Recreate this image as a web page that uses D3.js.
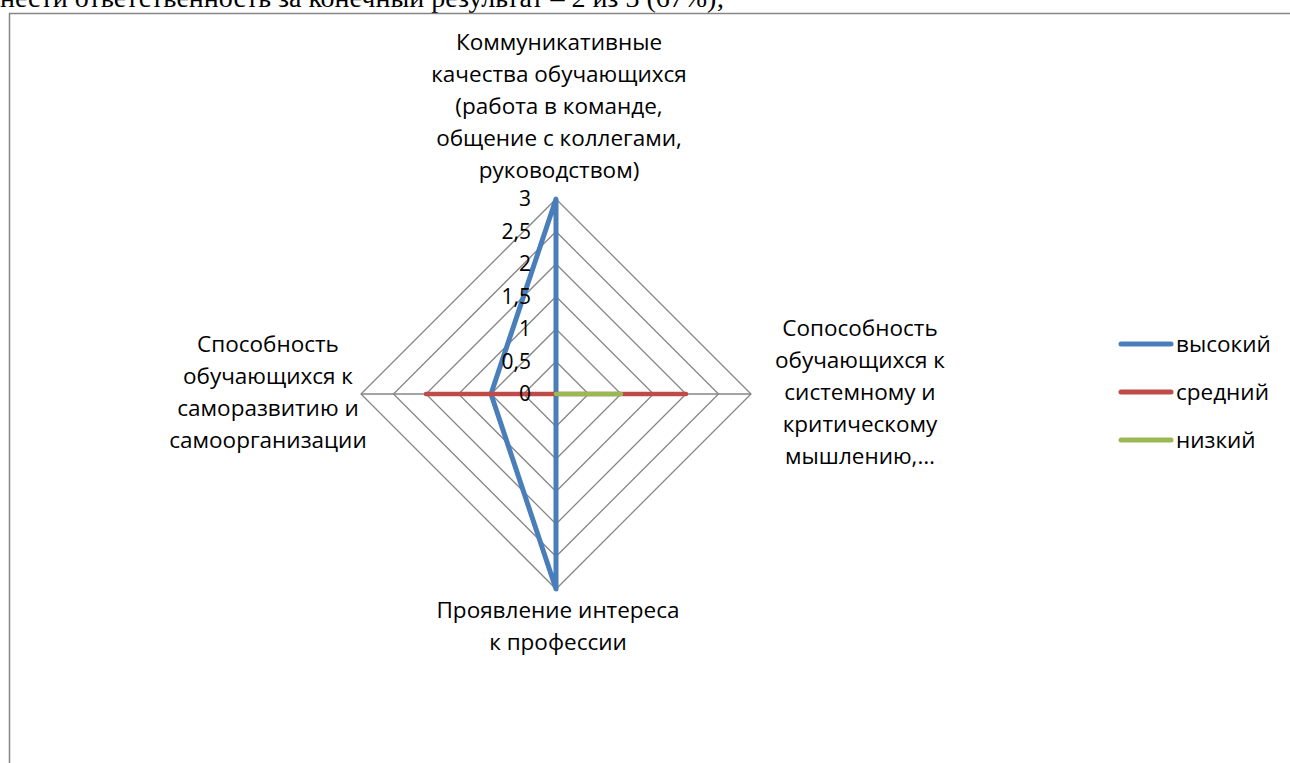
<!DOCTYPE html>
<html>
<head>
<meta charset="utf-8">
<script src="https://cdn.jsdelivr.net/npm/d3@7"></script>
<style>
body { margin: 0; background: #fff; overflow: hidden; }
svg { display: block; }
</style>
</head>
<body>
<svg id="svg"></svg>
<script>
var width = 1290, height = 763;

var categories = [
	["Коммуникативные", "качества обучающихся", "(работа в команде,", "общение с коллегами,", "руководством)"],
	["Сопособность", "обучающихся к", "системному и", "критическому", "мышлению,…"],
	["Проявление интереса", "к профессии"],
	["Способность", "обучающихся к", "саморазвитию и", "самоорганизации"]
];
var seriesNames = ["высокий", "средний", "низкий"];
var highValues = [3, 0, 3, 1];
var midValues = [0, 2, 0, 2];
var lowValues = [0, 1, 0, 0];
var ticks = [0, 0.5, 1, 1.5, 2, 2.5, 3];
var tickLabels = ["0", "0,5", "1", "1,5", "2", "2,5", "3"];
var colors = ["#4a7ebb", "#be4b48", "#98b954"];

var svg = d3.select("#svg")
	.attr("width", width)
	.attr("height", height);

// text cut off from the page above the chart
svg.append("text")
	.attr("x", 0)
	.attr("y", 7)
	.attr("font-family", "Liberation Serif, Times New Roman, serif")
	.attr("font-size", "28px")
	.attr("fill", "#000")
	.text("нести ответственность за конечный результат – 2 из 3 (67%);");

// chart frame
svg.append("rect")
	.attr("x", 9.5)
	.attr("y", 13.5)
	.attr("width", 1290)
	.attr("height", 800)
	.attr("fill", "none")
	.attr("stroke", "#868686")
	.attr("stroke-width", 1.5);

var cx = 556, cy = 394;
var r = d3.scaleLinear().domain([0, 3]).range([0, 195]);
var angle = function(i) { return i * Math.PI / 2; };

var g = svg.append("g").attr("transform", "translate(" + cx + "," + cy + ")");

var radial = d3.lineRadial()
	.angle(function(d, i) { return angle(i); })
	.radius(function(d) { return r(d); })
	.curve(d3.curveLinearClosed);

// grid rings
ticks.slice(1).forEach(function(t) {
	g.append("path")
		.attr("d", radial([t, t, t, t]))
		.attr("fill", "none")
		.attr("stroke", "#868686")
		.attr("stroke-width", 1.3);
});

// spokes
categories.forEach(function(c, i) {
	g.append("line")
		.attr("x1", 0).attr("y1", 0)
		.attr("x2", r(3) * Math.sin(angle(i)))
		.attr("y2", -r(3) * Math.cos(angle(i)))
		.attr("stroke", "#868686")
		.attr("stroke-width", 1.3);
});

// series
var allSeries = [highValues, midValues, lowValues];
var widths = [5, 4.5, 4.5];
allSeries.forEach(function(vals, k) {
	g.append("path")
		.attr("d", radial(vals))
		.attr("fill", "none")
		.attr("stroke", colors[k])
		.attr("stroke-width", widths[k])
		.attr("stroke-linejoin", "round");
});

// tick labels
ticks.forEach(function(t, i) {
	g.append("text")
		.attr("x", -25)
		.attr("y", -r(t))
		.attr("dy", "0.35em")
		.attr("text-anchor", "end")
		.attr("font-family", "Open Sans, sans-serif")
		.attr("font-size", "21px")
		.attr("fill", "#000")
		.text(tickLabels[i]);
});

// category labels
var lineH = 32;
var labelPos = [
	{x: 3, y: -352},
	{x: 304, y: -66},
	{x: 2, y: 216},
	{x: -288, y: -50}
];
categories.forEach(function(lines, i) {
	var t = g.append("text")
		.attr("text-anchor", "middle")
		.attr("font-family", "Open Sans, sans-serif")
		.attr("font-size", "22.5px")
		.attr("fill", "#000");
	lines.forEach(function(l, j) {
		t.append("tspan")
			.attr("x", labelPos[i].x)
			.attr("y", labelPos[i].y + j * lineH)
			.attr("dy", "0.35em")
			.text(l);
	});
});

// legend
var legend = svg.append("g").attr("class", "legend");
seriesNames.forEach(function(name, i) {
	var y = 344 + i * 48;
	legend.append("line")
		.attr("x1", 1121).attr("x2", 1171)
		.attr("y1", y).attr("y2", y)
		.attr("stroke", colors[i])
		.attr("stroke-width", 5)
		.attr("stroke-linecap", "round");
	legend.append("text")
		.attr("x", 1176)
		.attr("y", y)
		.attr("dy", "0.35em")
		.attr("font-family", "Open Sans, sans-serif")
		.attr("font-size", "22.5px")
		.attr("fill", "#000")
		.text(name);
});
</script>
</body>
</html>
